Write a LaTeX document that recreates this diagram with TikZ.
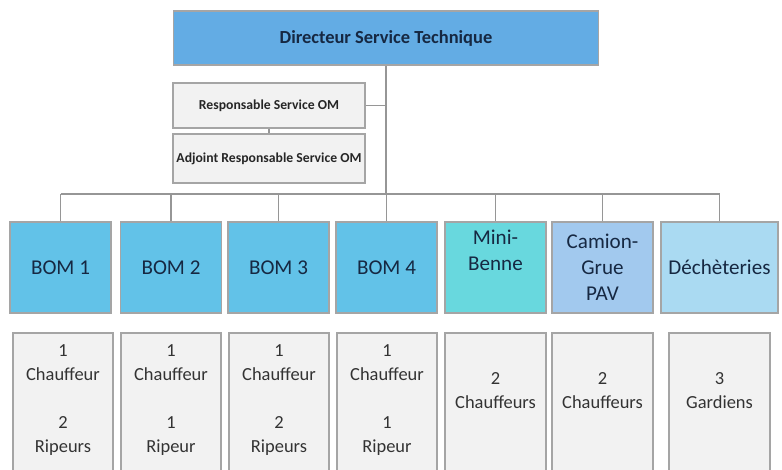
\documentclass[tikz,border=0pt]{standalone}
\usepackage{fontspec}
\setmainfont{Carlito}
\usepackage{tikz}
\usetikzlibrary{positioning,calc}
\definecolor{dirblue}{RGB}{99,172,228}
\definecolor{bomblue}{RGB}{98,194,232}
\definecolor{minicyan}{RGB}{104,216,222}
\definecolor{camblue}{RGB}{162,201,238}
\definecolor{decblue}{RGB}{170,218,242}
\definecolor{boxgray}{RGB}{242,242,242}
\definecolor{edgegray}{RGB}{165,165,165}
\definecolor{linegray}{RGB}{150,150,150}
\definecolor{navytext}{RGB}{22,40,66}

\begin{document}
\begin{tikzpicture}[x=0.02cm, y=-0.02cm, semithick,
     topbox/.style={draw=edgegray, fill=dirblue, minimum width=8.52cm, minimum height=1.08cm,
       text=navytext, font=\fontsize{10.5}{12}\selectfont\bfseries},
     respbox/.style={draw=edgegray, fill=boxgray, minimum width=3.84cm, inner sep=1pt,
       text=black!85, font=\fontsize{7.8}{9}\selectfont\bfseries},
     vehbox/.style={draw=edgegray, minimum width=2.02cm, minimum height=1.82cm, align=center,
       text=navytext, font=\fontsize{12}{14.8}\selectfont},
     staffbox/.style={draw=edgegray, fill=boxgray, minimum width=2cm, minimum height=3.14cm},
     stafftext/.style={align=center, text=black!80, font=\fontsize{10.5}{13.6}\selectfont},
     link/.style={draw=linegray, line width=0.6pt}]
    \useasboundingbox (0,0) rectangle (782,470);
    \clip (0,0) rectangle (782,470);
    \node[topbox] (dir) at (386, 38) {Directeur Service Technique};
    \node[respbox, minimum height=0.9cm] (resp) at (269, 105.5) {Responsable Service OM};
    \node[respbox, minimum height=0.98cm] (adj) at (269, 158.5) {Adjoint Responsable Service OM};
    % vehicles
    \node[vehbox, fill=bomblue] (bom1) at (60.5, 267.5) {BOM 1};
    \node[vehbox, fill=bomblue] (bom2) at (171, 267.5) {BOM 2};
    \node[vehbox, fill=bomblue] (bom3) at (278.5, 267.5) {BOM 3};
    \node[vehbox, fill=bomblue] (bom4) at (386.5, 267.5) {BOM 4};
    \node[vehbox, fill=minicyan] (mini) at (495.5, 267.5) {Mini-\\Benne\\\strut};
    \node[vehbox, fill=camblue] (cam) at (602.5, 267.5) {Camion-\\Grue\\PAV};
    \node[vehbox, fill=decblue, minimum width=2.34cm] (dec) at (719.5, 267.5) {Déchèteries};
    % staff
    \node[staffbox] (s1) at (63, 411.5) {};
    \node[staffbox] (s2) at (171, 411.5) {};
    \node[staffbox] (s3) at (279, 411.5) {};
    \node[staffbox] (s4) at (387, 411.5) {};
    \node[staffbox, minimum width=2.02cm] (s5) at (495.5, 411.5) {};
    \node[staffbox, minimum width=2.02cm] (s6) at (602.5, 411.5) {};
    \node[staffbox, minimum width=2.02cm] (s7) at (719.5, 411.5) {};
    \node[stafftext] (s1t) at (63, 400) {1\\Chauffeur\\~\\2\\Ripeurs};
    \node[stafftext] (s2t) at (171, 400) {1\\Chauffeur\\~\\1\\Ripeur};
    \node[stafftext] (s3t) at (279, 400) {1\\Chauffeur\\~\\2\\Ripeurs};
    \node[stafftext] (s4t) at (387, 400) {1\\Chauffeur\\~\\1\\Ripeur};
    \node[stafftext] (s5t) at (495.5, 391) {2\\Chauffeurs};
    \node[stafftext] (s6t) at (602.5, 391) {2\\Chauffeurs};
    \node[stafftext] (s7t) at (719.5, 391) {3\\Gardiens};
    % links
    \coordinate (busl) at (60.5, 194);
    \coordinate (busr) at (719.5, 194);
    \path[link] (busl) -- (busr);
    \path[link] (dir.south) -- (dir.south |- busl);
    \path[link] (resp.east) -- (resp.east -| dir.south);
    \path[link] (resp.south) -- (adj.north);
    \path[link] (bom1.north) -- (bom1.north |- busl);
    \path[link] (bom2.north) -- (bom2.north |- busl);
    \path[link] (bom3.north) -- (bom3.north |- busl);
    \path[link] (bom4.north) -- (bom4.north |- busl);
    \path[link] (mini.north) -- (mini.north |- busl);
    \path[link] (cam.north) -- (cam.north |- busl);
    \path[link] (dec.north) -- (dec.north |- busl);
\end{tikzpicture}
\end{document}
